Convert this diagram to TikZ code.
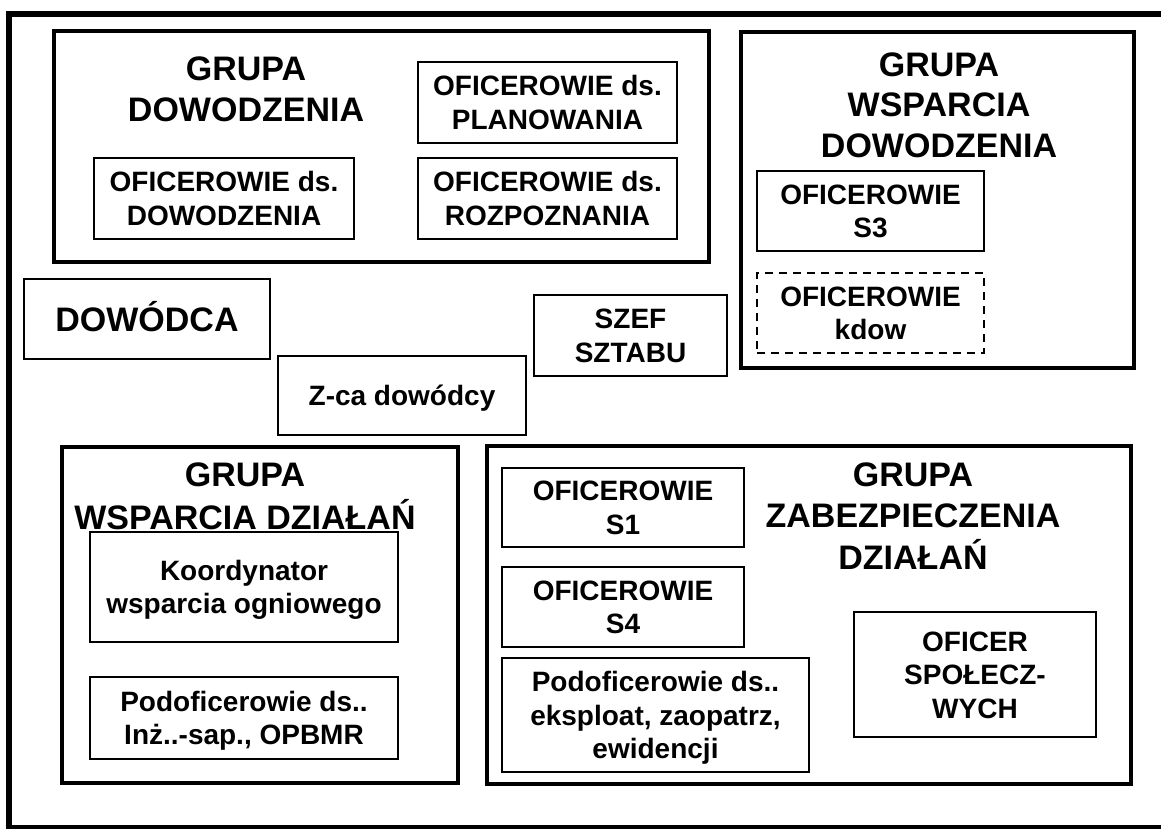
\documentclass[tikz,border=0pt]{standalone}
\usepackage{fontspec}
\setmainfont{Liberation Sans}
\newcommand{\boxlines}[1]{\begin{tabular}[t]{@{}c@{}}#1\end{tabular}}

\begin{document}
\begin{tikzpicture}[x=1pt,y=-1pt]
\tikzstyle{every node}+=[inner sep=0pt]
\tikzstyle{group}=[draw, line width=4.2pt]
\tikzstyle{unit}=[draw, line width=2.7pt, font=\fontsize{28}{33.5}\selectfont\bfseries, text height=20pt, text depth=0pt]
\tikzstyle{grptitle}=[font=\fontsize{34}{40.5}\selectfont\bfseries, text height=24.3pt, text depth=0pt]
\tikzstyle{lines2}=[text depth=33.5pt]
\tikzstyle{lines3}=[text depth=67pt]
\tikzstyle{tlines2}=[text depth=40.5pt]
\tikzstyle{tlines3}=[text depth=81pt]

\useasboundingbox (0,0) rectangle (1161,829);
\fill [white] (0,0) rectangle (1161,829);
\draw [line width=6pt] (9,14) rectangle (1185,828);

% grupa dowodzenia
\node [group, minimum width=655pt, minimum height=231pt] (gd) at (381.5,146.5) {};
\node [grptitle, tlines2] (gdtitle) at (246,89) {\boxlines{GRUPA\\DOWODZENIA}};
\node [unit, lines2, minimum width=259pt, minimum height=81pt] (plan) at (547.5,102.5) {\boxlines{OFICEROWIE ds.\\PLANOWANIA}};
\node [unit, lines2, minimum width=259pt, minimum height=81pt] (rozp) at (547.5,198.5) {\boxlines{OFICEROWIE ds.\\ROZPOZNANIA}};
\node [unit, lines2, minimum width=260pt, minimum height=81pt] (dowo) at (224,198.5) {\boxlines{OFICEROWIE ds.\\DOWODZENIA}};

% grupa wsparcia dowodzenia
\node [group, minimum width=393pt, minimum height=336pt] (gwd) at (937.5,200) {};
\node [grptitle, tlines3] (gwdtitle) at (939,104.5) {\boxlines{GRUPA\\WSPARCIA\\DOWODZENIA}};
\node [unit, lines2, minimum width=227pt, minimum height=80pt] (s3) at (870.5,211) {\boxlines{OFICEROWIE\\S3}};
\node [unit, lines2, dash pattern=on 8pt off 6pt, minimum width=227pt, minimum height=80pt] (kdow) at (870.5,313) {\boxlines{OFICEROWIE\\kdow}};

% kierownictwo
\node [unit, grptitle, minimum width=246pt, minimum height=80pt] (dowodca) at (147,319) {DOWÓDCA};
\node [unit, minimum width=248pt, minimum height=79pt] (zca) at (402,395.5) {Z-ca dowódcy};
\node [unit, lines2, minimum width=193pt, minimum height=81pt] (szef) at (630.5,335.5) {\boxlines{SZEF\\SZTABU}};

% grupa wsparcia dzialan
\node [group, minimum width=396pt, minimum height=336pt] (gwdz) at (260,615) {};
\node [grptitle, tlines2] (gwdztitle) at (245,495) {\boxlines{GRUPA\\WSPARCIA DZIAŁAŃ}};
\node [unit, lines2, minimum width=308pt, minimum height=110pt] (koord) at (244,587) {\boxlines{Koordynator\\wsparcia ogniowego}};
\node [unit, lines2, minimum width=308pt, minimum height=82pt] (podinz) at (244,718) {\boxlines{Podoficerowie ds..\\Inż..-sap., OPBMR}};

% grupa zabezpieczenia dzialan
\node [group, minimum width=644pt, minimum height=338pt] (gzd) at (809,615) {};
\node [grptitle, tlines3] (gzdtitle) at (913,515) {\boxlines{GRUPA\\ZABEZPIECZENIA\\DZIAŁAŃ}};
\node [unit, lines2, minimum width=242pt, minimum height=79pt] (s1) at (623,507.5) {\boxlines{OFICEROWIE\\S1}};
\node [unit, lines2, minimum width=242pt, minimum height=80pt] (s4) at (623,607) {\boxlines{OFICEROWIE\\S4}};
\node [unit, lines3, minimum width=307pt, minimum height=114pt] (podeks) at (655.5,715) {\boxlines{Podoficerowie ds..\\eksploat, zaopatrz,\\ewidencji}};
\node [unit, lines3, minimum width=242pt, minimum height=125pt] (spol) at (975,674.5) {\boxlines{OFICER\\SPOŁECZ-\\WYCH}};
\end{tikzpicture}
\end{document}
